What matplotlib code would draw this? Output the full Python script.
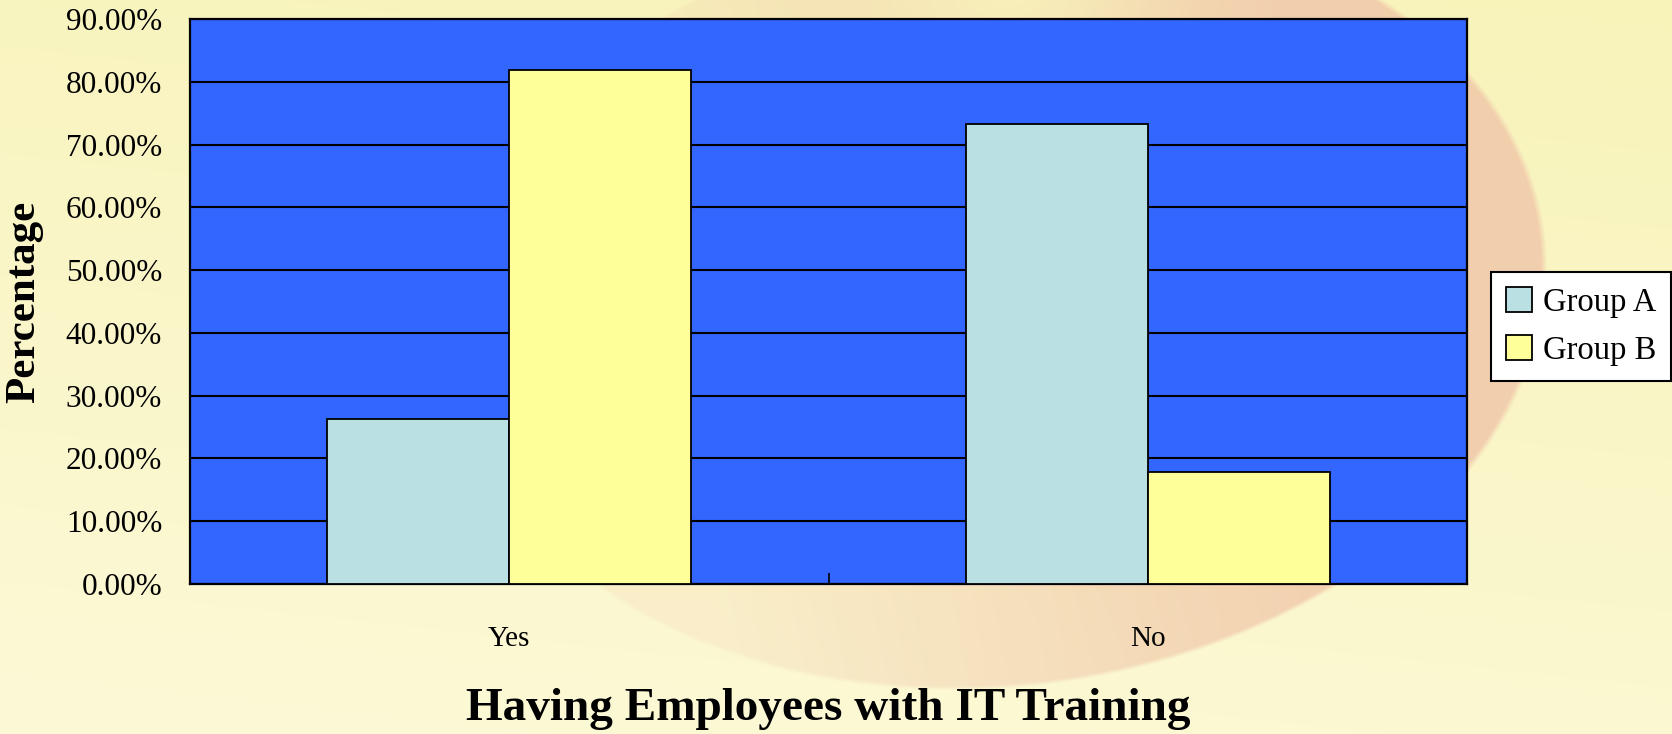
import numpy as np
import matplotlib
matplotlib.use("Agg")
import matplotlib.pyplot as plt
from matplotlib.ticker import FuncFormatter, FixedLocator

categories = ["Yes", "No"]
group_a = [26.3, 73.3]
group_b = [81.8, 17.8]
series_names = ["Group A", "Group B"]
yticks = [0, 10, 20, 30, 40, 50, 60, 70, 80, 90]

plt.rcParams['font.family'] = ['Liberation Serif', 'DejaVu Serif']

W, H = 1672, 734
fig = plt.figure(figsize=(W / 100, H / 100), dpi=100)

# background: pale yellow with a soft peach disc
bg = fig.add_axes([0, 0, 1, 1], zorder=-10)
yy, xx = np.mgrid[0:H, 0:W].astype(float)
cx, cy, rx, ry, shear = 1000, 300, 545, 390, 0.12
xs = (xx - cx) + shear * (yy - cy)
d = np.sqrt((xs / rx) ** 2 + ((yy - cy) / ry) ** 2)
base_top = np.array([248, 243, 185]) / 255.0
base_bot = np.array([252, 249, 215]) / 255.0
tb = np.clip(yy / H * 0.8 + (1 - xx / W) * 0.2, 0, 1)[..., None]
img = base_top * (1 - tb) + base_bot * tb
peach = np.array([241, 203, 172]) / 255.0
inside = np.clip((1.0 - d) / 0.012, 0, 1)
tx = xs / rx
ty = (yy - cy) / ry
inten = np.clip(0.55 + 0.6 * tx - 0.1 * ty, 0.2, 0.9)
# soft pale highlight near the top centre
hl = np.exp(-(((xx - 1010) / 130) ** 2 + ((yy + 10) / 90) ** 2))
inten = inten * (1 - 0.8 * hl)
a = (inside * inten)[..., None]
img = img * (1 - a) + peach * a
bg.imshow(img, aspect='auto', extent=[0, W, H, 0])
bg.set_axis_off()

ax = fig.add_axes([190 / W, 1 - 584 / H, (1467 - 190) / W, (584 - 19) / H])
ax.set_facecolor('#3366FF')

x = np.arange(len(categories))
bw = 0.285
ax.bar(x - bw / 2, group_a, width=bw, color='#BBE0E3', edgecolor='black',
       linewidth=1.3, label=series_names[0], zorder=3)
ax.bar(x + bw / 2, group_b, width=bw, color='#FFFF99', edgecolor='black',
       linewidth=1.3, label=series_names[1], zorder=3)

ax.set_xlim(-0.5, len(categories) - 0.5)
ax.set_ylim(0, 90)
ax.set_yticks(yticks)
ax.yaxis.set_major_formatter(FuncFormatter(lambda v, p: f"{v:.2f}%"))
ax.yaxis.grid(True, color='black', linewidth=1.5, zorder=1)
ax.set_axisbelow(True)

ax.set_xticks(x)
ax.set_xticklabels(categories)
ax.xaxis.set_minor_locator(FixedLocator([0.5]))
ax.tick_params(axis='x', which='major', length=0, pad=30, labelsize=21)
ax.tick_params(axis='x', which='minor', direction='in', length=8, width=1.2)
ax.tick_params(axis='y', direction='in', length=5, width=1.2, pad=20, labelsize=22.5)

for s in ax.spines.values():
    s.set_linewidth(1.6)
    s.set_color('black')

ax.set_ylabel("Percentage", fontsize=31, fontweight='bold', labelpad=16)
ax.set_xlabel("Having Employees with IT Training", fontsize=34, fontweight='bold', labelpad=26)

leg = fig.legend(loc='upper left', bbox_to_anchor=(1491 / W, 1 - 272 / H),
                 fontsize=23.5, frameon=True, fancybox=False, framealpha=1,
                 edgecolor='black', handlelength=0.8, handleheight=0.8,
                 handletextpad=0.35, borderpad=0.45, labelspacing=0.55,
                 borderaxespad=0)
leg.get_frame().set_linewidth(1.5)

fig.savefig("out.png", dpi=100)
